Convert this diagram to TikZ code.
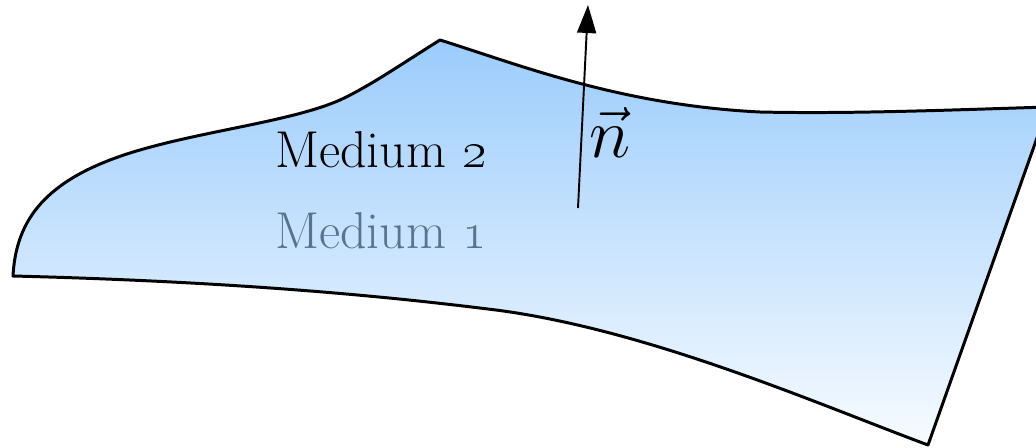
\RequirePackage{fix-cm}
\documentclass[tikz,border=0pt]{standalone}
\usetikzlibrary{arrows.meta}
\definecolor{mediumtop}{RGB}{155,204,252}
\definecolor{mediumbottom}{RGB}{247,251,255}
\definecolor{mediumgrey}{RGB}{88,115,143}
\tikzset{
    interface/.style={line width=1.7pt, line join=round, top color=mediumtop, bottom color=mediumbottom},
    mediumlabel/.style={anchor=base west, inner sep=0pt, font=\fontsize{29.5}{34}\selectfont},
    normalvec/.style={line width=1.1pt, -{Triangle[length=0.56cm,width=0.38cm]}}
}
\begin{document}
\begin{tikzpicture}[x=0.02cm,y=-0.02cm]
    \useasboundingbox (0,0) rectangle (1036,447);
    \clip (0,0) rectangle (1036,447);
    % The boundary surface, right corner is cut off by the frame
    \draw[interface] (13,276) .. controls (16,220) and (45,180) .. (130,153)
        .. controls (200,131) and (290,122) .. (340,100)
        .. controls (370,86) and (400,65) .. (440,40)
        .. controls (520,65) and (620,105) .. (760,112)
        .. controls (850,114) and (950,110) .. (1048,107)
        -- (928,445)
        .. controls (820,405) and (650,330) .. (496,310)
        .. controls (400,298) and (250,282) .. (13,276) -- cycle;
    % Labels of the two media
    \node[mediumlabel] (medtwo) at (275,167) {Medium \oldstylenums{2}};
    \node[mediumlabel,text=mediumgrey] (medone) at (275,248) {Medium \oldstylenums{1}};
    % Normal vector
    \coordinate (nfoot) at (578,208);
    \coordinate (ntip) at (588,5);
    \draw[normalvec] (nfoot) -- (ntip);
    \node[anchor=base, inner sep=0pt, font=\fontsize{40}{44}\selectfont] (nlabel) at (610,157) {$\vec{n}$};
\end{tikzpicture}
\end{document}
